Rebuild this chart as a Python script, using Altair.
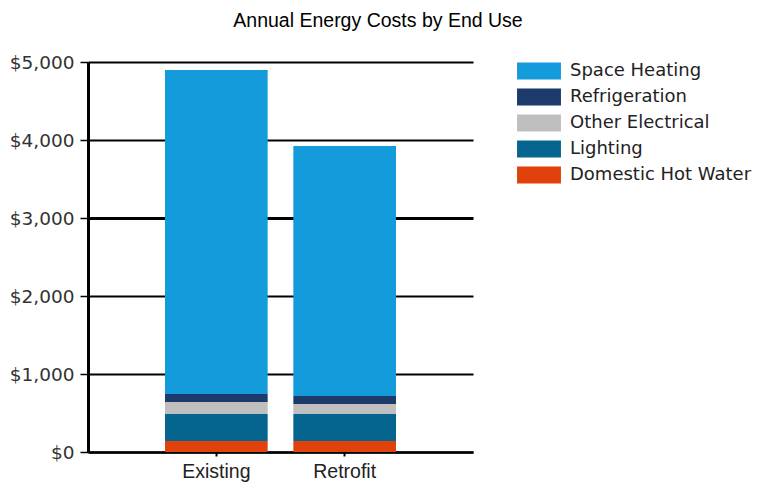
import altair as alt
import pandas as pd

scenarios = ["Existing", "Retrofit"]
end_uses = ["Space Heating", "Refrigeration", "Other Electrical", "Lighting", "Domestic Hot Water"]
colors = ["#149bdc", "#1c3a6a", "#bfbfbf", "#06658f", "#e1410a"]
existing = [4153, 103, 154, 346, 141]
retrofit = [3205, 103, 128, 346, 141]
y_ticks = [0, 1000, 2000, 3000, 4000, 5000]

rows = []
for s, vals in zip(scenarios, [existing, retrofit]):
    for i, (u, v) in enumerate(zip(end_uses, vals)):
        rows.append({"scenario": s, "use": u, "cost": v, "ord": len(end_uses) - 1 - i})
df = pd.DataFrame(rows)

chart = alt.Chart(df).mark_bar().encode(
    x=alt.X("scenario:N", title=None, sort=scenarios,
            scale=alt.Scale(paddingInner=0.2, paddingOuter=0.6),
            axis=alt.Axis(labelAngle=0, domainColor="black", domainWidth=2.5,
                          tickColor="black", tickWidth=2, tickSize=4,
                          labelFont="Liberation Sans", labelFontSize=19.5,
                          labelColor="#222", labelPadding=6, grid=False)),
    y=alt.Y("cost:Q", title=None, stack="zero",
            scale=alt.Scale(domain=[0, 5000], nice=False),
            axis=alt.Axis(values=y_ticks, format="$,.0f", domainColor="black",
                          domainWidth=3, tickColor="black", tickWidth=1.5, tickSize=8,
                          gridColor="black",
                          gridWidth={"condition": {"test": "datum.value === 3000", "value": 3},
                                     "value": 2.2},
                          grid=True,
                          labelFont="DejaVu Sans", labelFontSize=18.5,
                          labelColor="#333", labelPadding=6)),
    color=alt.Color("use:N", scale=alt.Scale(domain=end_uses, range=colors),
                    legend=alt.Legend(title=None, orient="none", legendX=442, legendY=0,
                                      symbolType="M-2.44,-0.95H2.44V0.95H-2.44Z",
                                      symbolSize=324, symbolStrokeWidth=0,
                                      labelFont="DejaVu Sans", labelFontSize=18,
                                      labelColor="#222", labelOffset=22, labelLimit=0,
                                      rowPadding=8)),
    order=alt.Order("ord:Q"),
).properties(
    width=385, height=390,
    title=alt.TitleParams("Annual Energy Costs by End Use", font="Liberation Sans",
                          fontSize=19.5, fontWeight="normal", color="#000",
                          anchor="middle", dx=97.5, dy=-18),
    autosize=alt.AutoSizeParams(type="none"),
    padding={"left": 80, "top": 54, "right": 280, "bottom": 31},
).configure_view(stroke=None)

chart.save("out.html", embed_options={"renderer": "svg", "actions": False})
